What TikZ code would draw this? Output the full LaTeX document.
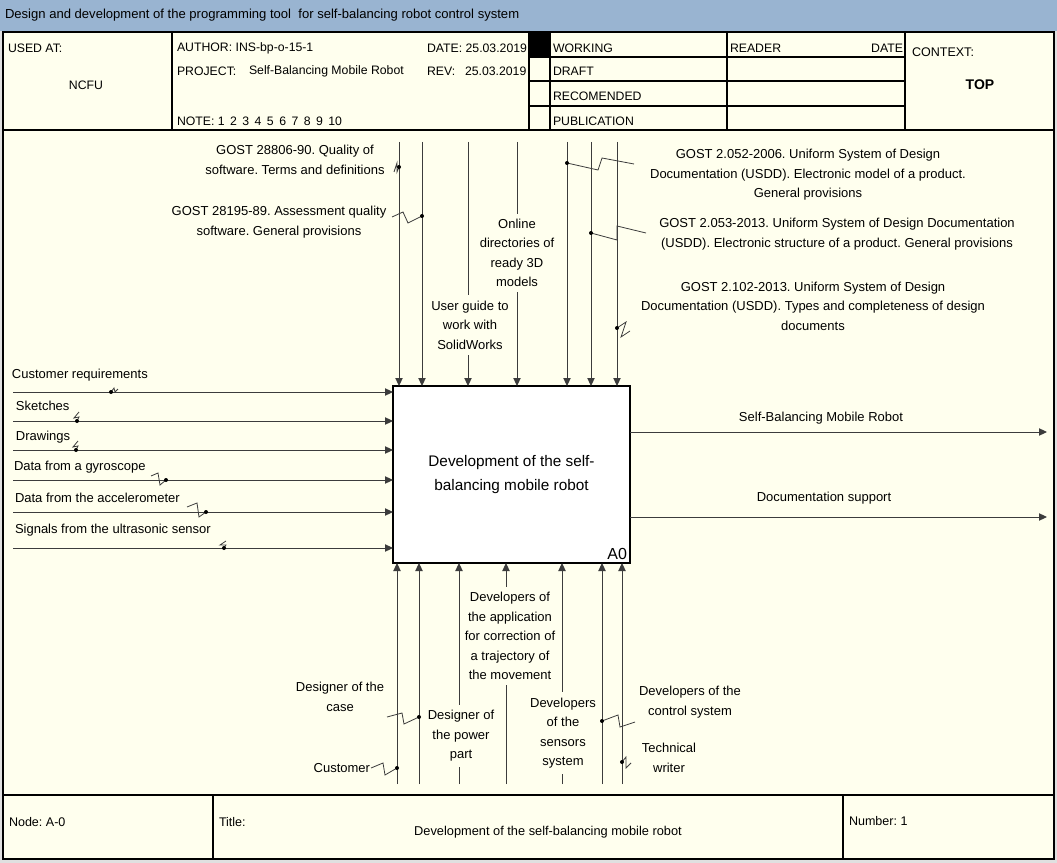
\documentclass[tikz,border=0pt]{standalone}
\usepackage{fontspec}
\setmainfont{Liberation Sans}
\usetikzlibrary{arrows.meta,calc}
\definecolor{cream}{RGB}{255,255,238}
\definecolor{titlebar}{RGB}{153,180,209}
\definecolor{lin}{RGB}{60,60,60}
\frenchspacing
\begin{document}
\frenchspacing
\begin{tikzpicture}[x=0.75pt,y=-0.75pt,
  every node/.style={inner sep=0pt, outer sep=0pt},
  ln/.style={draw=lin, line width=0.75pt},
  arr/.style={ln, -{Triangle[length=6pt,width=5.5pt]}},
  sq/.style={draw=lin, line width=0.6pt},
  lbl/.style={font=\fontsize{9.75}{14.6}\selectfont, align=center},
  lblw/.style={font=\fontsize{9.75}{14.6}\selectfont, anchor=west},
  onln/.style={lbl, fill=cream, inner xsep=1pt, inner ysep=4pt},
  hdr/.style={font=\fontsize{9.2}{11}\selectfont, anchor=west},
  frm/.style={draw=black, line width=0.9pt},
  dotm/.style={fill=black}]
\useasboundingbox (0,0) rectangle (1057,863);
% backgrounds
\fill[black!12] (0,0) rectangle (1057,863);
\fill[titlebar] (0,0) rectangle (1057,31);
\fill[cream] (3,32) rectangle (1054,859);
\node[hdr, font=\fontsize{9.8}{11}\selectfont] (ttl) at (5,15) {Design and development of the programming tool\ \ for self-balancing robot control system};
% header frame
\draw[frm] (3,32) rectangle (1054,859);
\draw[frm] (3,130) -- (1054,130);
\draw[frm] (3,795) -- (1054,795);
\foreach \x in {172,529,550,727,905} \draw[frm] (\x,32) -- (\x,130);
\foreach \y in {57,81,106} \draw[frm] (529,\y) -- (905,\y);
\fill[black] (529,32) rectangle (550,57);
\draw[frm] (213,795) -- (213,859);
\draw[frm] (843,795) -- (843,859);
% header texts
\node[hdr] (usedat) at (8,48) {USED AT:};
\node[hdr, anchor=center] (ncfu) at (86,85) {NCFU};
\node[hdr] (author) at (177,48) {AUTHOR: INS-bp-o-15-1};
\node[hdr] (date) at (427,48) {DATE: 25.03.2019};
\node[hdr] (project) at (177,71) {PROJECT:};
\node[hdr] (projname) at (249,71) {Self-Balancing Mobile Robot};
\node[hdr] (rev) at (427,71) {REV:};
\node[hdr] (revdate) at (465,71) {25.03.2019};
\node[hdr] (note) at (177,121) {NOTE: 1\,\ 2\,\ 3\,\ 4\,\ 5\,\ 6\,\ 7\,\ 8\,\ 9\,\ 10};
\node[hdr] (working) at (553,48) {WORKING};
\node[hdr] (draft) at (553,71) {DRAFT};
\node[hdr] (recom) at (553,96) {RECOMENDED};
\node[hdr] (publ) at (553,121) {PUBLICATION};
\node[hdr] (reader) at (730,48) {READER};
\node[hdr, anchor=east] (rdate) at (903,48) {DATE};
\node[hdr, font=\fontsize{9.4}{11}\selectfont] (context) at (912,52) {CONTEXT:};
\node[font=\fontsize{10.5}{12}\selectfont\bfseries] (top) at (980,85) {TOP};
% footer texts
\node[hdr, font=\fontsize{9.4}{11}\selectfont] (nodeA) at (9,822) {Node: A-0};
\node[hdr, font=\fontsize{9.4}{11}\selectfont] (titleL) at (219,822) {Title:};
\node[font=\fontsize{9.6}{11}\selectfont] (titleT) at (548,832) {Development of the self-balancing mobile robot};
\node[hdr, font=\fontsize{9.4}{11}\selectfont] (number) at (849,821) {Number: 1};
% main box
\node[draw=black, line width=0.9pt, fill=white, minimum width=177.75pt, minimum height=132.75pt,
      font=\fontsize{11.5}{17.3}\selectfont, align=center] (A0) at (511.5,474.5)
      {Development of the self-\\balancing mobile robot};
\node[anchor=south east, font=\fontsize{12}{14}\selectfont] (a0lab) at (627,560) {A0};
% inputs
\foreach \n/\y in {1/392,2/421,3/450,4/480,5/512,6/548} {
  \coordinate (i\n) at (13,\y);
  \draw[arr] (i\n) -- (i\n -| A0.west);
}
\node[lblw] (li1) at (12,375) {Customer requirements};
\node[lblw] (li2) at (16,406) {Sketches};
\node[lblw] (li3) at (16,437) {Drawings};
\node[lblw] (li4) at (14,467) {Data from a gyroscope};
\node[lblw] (li5) at (15,498) {Data from the accelerometer};
\node[lblw] (li6) at (15,530) {Signals from the ultrasonic sensor};
% outputs
\coordinate (o1) at (1047,432);
\coordinate (o2) at (1047,517);
\draw[arr] (o1 -| A0.east) -- (o1);
\draw[arr] (o2 -| A0.east) -- (o2);
\node[lbl] (lo1) at (821,418) {Self-Balancing Mobile Robot};
\node[lbl] (lo2) at (824,498) {Documentation support};
% controls
\foreach \n/\x in {1/399,2/422,3/468,4/517,5/567,6/591,7/617} {
  \coordinate (c\n) at (\x,142);
  \draw[arr] (c\n) -- (c\n |- A0.north);
}
\node[lbl] (lc1) at (295,160) {GOST 28806-90. Quality of\\software. Terms and definitions};
\node[lbl] (lc2) at (279,222) {GOST 28195-89. Assessment quality\\software. General provisions};
\node[onln] (lc3) at (470,325) {User guide to\\work with\\SolidWorks};
\node[onln] (lc4) at (517,253) {Online\\directories of\\ready 3D\\models};
\node[lbl] (lc5) at (808,175) {GOST 2.052-2006. Uniform System of Design\\Documentation (USDD). Electronic model of a product.\\General provisions};
\node[lbl] (lc6) at (837,234) {GOST 2.053-2013. Uniform System of Design Documentation\\(USDD). Electronic structure of a product. General provisions};
\node[lbl] (lc7) at (813,306) {GOST 2.102-2013. Uniform System of Design\\Documentation (USDD). Types and completeness of design\\documents};
% mechanisms
\foreach \n/\x in {1/397,2/419,3/459,4/506,5/562,6/602,7/622} {
  \coordinate (m\n) at (\x,784);
  \draw[arr] (m\n) -- (m\n |- A0.south);
}
\node[lbl] (lm1) at (340,697) {Designer of the\\case};
\node[lbl, anchor=east] (lm2) at (370,768) {Customer};
\node[onln] (lm3) at (461,736) {Designer of\\the power\\part};
\node[onln] (lm4) at (510,636) {Developers of\\the application\\for correction of\\a trajectory of\\the movement};
\node[onln] (lm5) at (563,733) {Developers\\of the\\sensors\\system};
\node[lbl] (lm6) at (690,702) {Developers of the\\control system};
\node[lbl] (lm7) at (669,758) {Technical\\writer};
% squiggles (label -> arrow)
\newcommand\sqg[4]{\draw[sq] #1 -- #2 -- #3 -- #4; \fill[dotm] #4 circle[radius=1.5pt];}
\sqg{(394,172)}{(397,163)}{(397,172)}{(399,167)}
\sqg{(392,217)}{(403,212)}{(408,223)}{(422,216)}
\sqg{(634,164)}{(602,158)}{(598,170)}{(567,163)}
\sqg{(646,233)}{(617,226)}{(617,240)}{(591,233)}
\sqg{(630,331)}{(621,337)}{(626,322)}{(617,328)}
\sqg{(118,389)}{(115,392)}{(114,388)}{(111,392)}
\sqg{(79,412)}{(74,418)}{(79,417)}{(77,421)}
\sqg{(78,441)}{(73,447)}{(78,446)}{(76,450)}
\sqg{(151,476)}{(158,473)}{(160,485)}{(166,480)}
\sqg{(187,507)}{(197,503)}{(199,517)}{(206,512)}
\sqg{(226,541)}{(220,545)}{(226,545)}{(224,548)}
\sqg{(387,717)}{(402,713)}{(404,724)}{(419,717)}
\sqg{(371,768)}{(383,763)}{(385,775)}{(397,768)}
\sqg{(635,722)}{(620,727)}{(618,715)}{(602,721)}
\sqg{(631,763)}{(626,768)}{(626,757)}{(622,762)}
\end{tikzpicture}
\end{document}
